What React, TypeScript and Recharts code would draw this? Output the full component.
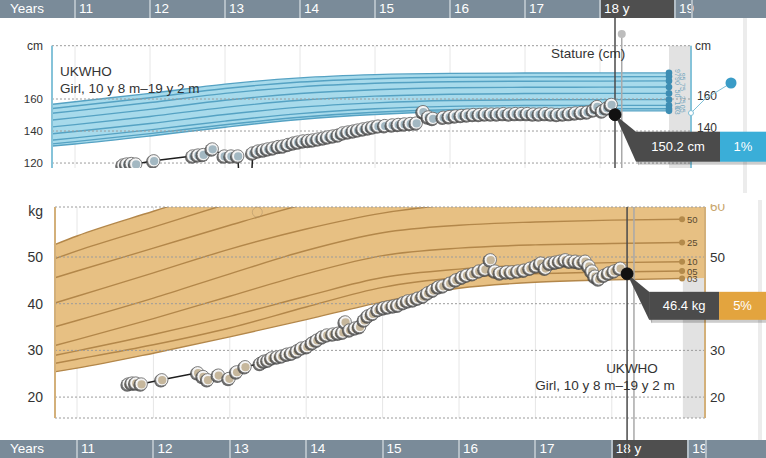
import React from "react";
import {
  ComposedChart,
  Line,
  Area,
  XAxis,
  YAxis,
  CartesianGrid,
  ReferenceLine,
  ReferenceArea,
  ReferenceDot,
} from "recharts";

const W = 766;
const H = 458;
const FONT = "'Liberation Sans', Arial, Helvetica, sans-serif";

const yearTicks = [11, 12, 13, 14, 15, 16, 17, 18, 19];
const currentAge = 18.2;
const markerAge = 18.29;

// centile curves (UKWHO girl)
const centileLabels = ["97", "95", "90", "75", "50", "25", "10", "05", "03"];
const htAges = [10.7, 11, 12, 13, 14, 15, 16, 17, 18, 18.92];
const htP97 = [156.7, 158.3, 163.5, 169.3, 173.2, 175.2, 176.0, 176.2, 176.3, 176.3];
const htP95 = [154.1, 155.6, 160.8, 166.6, 170.6, 172.7, 173.6, 173.8, 173.9, 174.0];
const htP90 = [151.1, 152.6, 157.8, 163.5, 167.6, 169.8, 170.8, 171.1, 171.2, 171.3];
const htP75 = [146.9, 148.4, 153.5, 159.2, 163.4, 165.8, 167.0, 167.3, 167.4, 167.5];
const htP50 = [142.6, 144.0, 149.1, 154.8, 159.2, 161.8, 163.0, 163.4, 163.5, 163.5];
const htP25 = [138.3, 139.7, 144.7, 150.3, 154.9, 157.6, 159.1, 159.5, 159.6, 159.6];
const htP10 = [134.3, 135.7, 140.7, 146.2, 150.9, 153.9, 155.4, 155.9, 156.0, 156.0];
const htP5 = [132.0, 133.4, 138.4, 143.9, 148.6, 151.7, 153.3, 153.8, 153.9, 153.9];
const htP3 = [130.6, 131.9, 136.9, 142.4, 147.2, 150.3, 152.0, 152.5, 152.6, 152.6];

const wtAges = [10.7, 11, 12, 13, 14, 15, 16, 17, 18, 18.92, 19.22];
const wtP97 = [52.6, 54.5, 59.8, 65.0, 69.5, 73.2, 75.6, 77.0, 77.8, 78.2, 78.3];
const wtP95 = [49.6, 51.3, 56.4, 61.5, 66.2, 69.8, 72.2, 73.6, 74.3, 74.6, 74.7];
const wtP90 = [45.5, 47.0, 51.9, 56.8, 61.4, 65.1, 67.6, 68.9, 69.6, 69.9, 70.0];
const wtP75 = [40.1, 41.6, 46.6, 51.7, 56.0, 59.4, 61.4, 62.6, 63.2, 63.5, 63.6];
const wtP50 = [35.0, 36.4, 41.2, 46.4, 51.4, 55.2, 56.8, 57.5, 57.9, 58.1, 58.2];
const wtP25 = [31.0, 32.3, 36.8, 41.6, 46.4, 50.3, 51.9, 52.6, 52.9, 53.1, 53.2];
const wtP10 = [28.9, 29.9, 33.4, 37.3, 41.6, 45.6, 47.4, 48.3, 48.8, 49.0, 49.1];
const wtP5 = [27.2, 28.1, 31.2, 34.8, 39.3, 43.5, 45.6, 46.4, 46.8, 47.0, 47.1];
const wtP3 = [25.4, 26.2, 29.4, 32.9, 36.6, 40.4, 43.3, 44.6, 45.1, 45.4, 45.5];

// measurements
const statAges = [11.64, 11.69, 11.75, 11.81, 12.05, 12.57, 12.64, 12.71, 12.83, 12.99, 13.08, 13.17, 13.28, 13.37, 13.44, 13.51, 13.57, 13.64, 13.71, 13.77, 13.84, 13.91, 13.97, 14.04, 14.11, 14.17, 14.24, 14.31, 14.37, 14.44, 14.51, 14.57, 14.64, 14.71, 14.77, 14.84, 14.91, 14.97, 15.04, 15.13, 15.23, 15.31, 15.39, 15.47, 15.55, 15.64, 15.71, 15.77, 15.91, 15.99, 16.07, 16.15, 16.23, 16.31, 16.39, 16.47, 16.55, 16.63, 16.71, 16.79, 16.87, 16.95, 17.03, 17.11, 17.19, 17.27, 17.35, 17.43, 17.51, 17.59, 17.67, 17.75, 17.83, 17.91, 17.96, 18.03, 18.09, 18.15, 18.2];
const statCm = [118.8, 119.4, 119.7, 119.4, 121.4, 124.4, 125.0, 125.3, 128.8, 124.4, 124.4, 124.4, 40, 126.3, 127.5, 128.1, 128.8, 129.4, 130.3, 130.6, 131.6, 132.5, 133.1, 133.8, 134.1, 134.4, 135.0, 135.6, 136.3, 136.9, 137.5, 138.8, 139.4, 140.0, 140.6, 141.3, 141.9, 142.5, 143.1, 143.4, 143.8, 144.1, 144.4, 144.7, 145.0, 152.1, 148.8, 147.9, 148.6, 149.0, 149.4, 149.7, 150.0, 150.3, 150.3, 150.6, 150.6, 150.6, 150.9, 150.6, 150.9, 150.9, 150.9, 150.6, 150.6, 150.9, 150.6, 150.3, 150.6, 150.9, 151.3, 151.6, 151.9, 153.1, 155.3, 152.5, 154.4, 156.6, 150.2];

const wtMAges = [11.67, 11.72, 11.77, 11.84, 12.11, 12.58, 12.65, 12.71, 12.85, 12.99, 13.09, 13.2, 13.4, 13.45, 13.5, 13.55, 13.62, 13.68, 13.75, 13.81, 13.88, 13.94, 14.01, 14.08, 14.14, 14.21, 14.27, 14.35, 14.42, 14.48, 14.51, 14.57, 14.64, 14.7, 14.76, 14.81, 14.87, 14.94, 15.01, 15.07, 15.14, 15.2, 15.27, 15.33, 15.4, 15.46, 15.53, 15.59, 15.66, 15.73, 15.79, 15.88, 15.96, 16.04, 16.1, 16.18, 16.26, 16.34, 16.41, 16.47, 16.54, 16.62, 16.69, 16.77, 16.85, 16.93, 17.01, 17.07, 17.13, 17.19, 17.26, 17.32, 17.39, 17.45, 17.52, 17.58, 17.65, 17.7, 17.74, 17.78, 17.83, 17.9, 17.96, 18.03, 18.11, 18.2];
const wtKg = [22.8, 23.0, 23.0, 22.8, 23.7, 25.2, 24.4, 23.7, 24.7, 24.0, 25.4, 26.5, 27.2, 27.7, 27.9, 28.4, 28.6, 28.8, 29.2, 29.4, 29.9, 30.5, 30.8, 31.6, 32.2, 32.9, 33.3, 33.5, 33.7, 33.9, 36.1, 34.4, 34.8, 35.1, 36.5, 37.4, 37.9, 38.7, 39.1, 39.3, 39.5, 39.7, 40.2, 40.6, 40.8, 41.2, 41.6, 42.3, 42.9, 43.6, 43.8, 44.4, 45.1, 45.7, 46.1, 46.4, 47.0, 47.4, 49.4, 47.0, 46.6, 46.8, 46.8, 47.0, 47.2, 47.6, 48.1, 48.7, 47.6, 48.7, 48.9, 49.1, 49.4, 49.1, 49.1, 48.9, 49.1, 48.1, 47.0, 45.9, 45.3, 46.1, 46.6, 47.0, 47.6, 46.4];

const htTicks = [120, 140, 160];
const wtTicks = [20, 30, 40, 50];

const htCurrent = 150.2;
const wtCurrent = 46.4;

const keys = ["p97", "p95", "p90", "p75", "p50", "p25", "p10", "p5", "p3"];
const toRows = (ages: number[], cols: number[][]) =>
  ages.map((age, i) => {
    const r: any = { age };
    keys.forEach((k, j) => (r[k] = cols[j][i]));
    return r;
  });
const htRows = toRows(htAges, [htP97, htP95, htP90, htP75, htP50, htP25, htP10, htP5, htP3]);
const wtRows = toRows(wtAges, [wtP97, wtP95, wtP90, wtP75, wtP50, wtP25, wtP10, wtP5, wtP3]);
const wtLineRows = wtRows.slice(0, wtRows.length - 1);
const statRows = statAges.map((age, i) => ({ age, v: statCm[i] }));
const wtMRows = wtMAges.map((age, i) => ({ age, v: wtKg[i] }));

// panel geometry (pixels per year in each panel)
const TOP = { x11: 75, perYear: 75, end: 692 };
const BOT = { x11: 77, perYear: 76.4, end: 706 };
const domainFor = (p: any) => [11 - p.x11 / p.perYear, 11 + (W - p.x11) / p.perYear];
const topDomain = domainFor(TOP);
const botDomain = domainFor(BOT);

const topAxisL = 10.693;
const topAxisR = 19.213;
const botAxisL = 10.712;
const botAxisR = 19.22;
const bandEnd = 18.92;

const htDom = [116.9, 193.3];
const wtDom = [15.52, 60.71];

const BLUE = "#3aaed8";
const TAN = "#e3a43e";
const DARK = "#4b4b4b";

const makeMeasureDot = (count: number, fill: string) => (props: any) => {
  const { cx, cy, index } = props;
  if (cx == null || cy == null || isNaN(cx) || isNaN(cy)) return <g key={`m${index}`} />;
  if (index === count - 1)
    return <circle key={`m${index}`} cx={cx} cy={cy} r={6} fill="#111" stroke="#2a2a2a" />;
  return (
    <g key={`m${index}`}>
      <circle cx={cx - 1} cy={cy + 1} r={6.8} fill="#454545" opacity={0.8} />
      <circle cx={cx} cy={cy} r={6.2} fill="#f4f4f4" stroke="#6f6f6f" strokeWidth={0.9} />
      <circle cx={cx + 0.4} cy={cy + 0.4} r={4.1} fill={fill} />
    </g>
  );
};

const makeEndDot = (last: number, label: string, mode: string, i: number) => (props: any) => {
  const { cx, cy, index } = props;
  if (index !== last || cx == null || cy == null) return <g key={`e${index}`} />;
  if (mode === "top") {
    const tx = cx + (i % 2 ? 13 : 8);
    return (
      <g key={`e${index}`}>
        <circle cx={cx} cy={cy} r={3.3} fill="#3d8db3" />
        <text x={tx} y={cy} transform={`rotate(90 ${tx} ${cy})`} fontSize={7} fill="#72a6bd" textAnchor="middle" dominantBaseline="central" fontFamily={FONT}>
          {label}
        </text>
      </g>
    );
  }
  return (
    <g key={`e${index}`}>
      <circle cx={cx} cy={cy} r={3} fill="#b38a4b" />
      <text x={cx + 5} y={cy} fontSize={9.5} fill="#5a4a30" dominantBaseline="central" fontFamily={FONT}>
        {label}
      </text>
    </g>
  );
};

const Callout = (props: any) => {
  const { cx, cy, text, pct, accent, gap, boxTop, boxH, darkW } = props;
  const bx = cx + gap;
  const by = cy + boxTop;
  const accW = W - (bx + darkW);
  return (
    <g>
      <polygon points={`${cx + 2},${cy + 5} ${bx + 3},${by + 4} ${bx + 3},${by + boxH + 4}`} fill="#000" opacity={0.18} />
      <rect x={bx + 2} y={by + 3} width={darkW + accW} height={boxH} fill="#000" opacity={0.2} />
      <polygon points={`${cx},${cy} ${bx},${by} ${bx},${by + boxH}`} fill={DARK} />
      <rect x={bx} y={by} width={darkW} height={boxH} fill={DARK} />
      <rect x={bx + darkW} y={by} width={accW} height={boxH} fill={accent} />
      <circle cx={cx} cy={cy} r={6} fill="#111" />
      <text x={bx + darkW / 2} y={by + boxH / 2} fill="#fff" fontSize={13} textAnchor="middle" dominantBaseline="central" fontFamily={FONT}>
        {text}
      </text>
      <text x={bx + darkW + accW / 2} y={by + boxH / 2} fill="#fff" fontSize={13} textAnchor="middle" dominantBaseline="central" fontFamily={FONT}>
        {pct}
      </text>
    </g>
  );
};

const gridLine = (y: number, x1: number, x2: number, left: string, right: string, opts: any) => (
  <ReferenceLine
    key={`g${y}`}
    segment={[{ x: x1, y }, { x: x2, y }]}
    stroke="#9b9b9b"
    strokeDasharray="2 2"
    ifOverflow="visible"
    label={(p: any) => {
      const vb = p.viewBox || {};
      return (
        <g>
          {left ? (
            <text x={vb.x - opts.lo} y={vb.y + (opts.ly || 0)} textAnchor="end" dominantBaseline="central" fontSize={opts.lf} fill="#333" fontFamily={FONT}>
              {left}
            </text>
          ) : null}
          {right ? (
            <text x={vb.x + vb.width + opts.ro} y={vb.y + (opts.ry || 0)} dominantBaseline="central" fontSize={opts.rf} fill={opts.rc || "#333"} fontFamily={FONT}>
              {right}
            </text>
          ) : null}
        </g>
      );
    }}
  />
);

function YearBar({ top, geo }: any) {
  const xs = (y: number) => geo.x11 + (y - 11) * geo.perYear;
  return (
    <div style={{ position: "absolute", left: 0, top, width: W, height: 18, background: "#7a8b99", fontFamily: FONT }}>
      <span style={{ position: "absolute", left: 10, top: 0, lineHeight: "18px", fontSize: 13.5, color: "#fff" }}>Years</span>
      {yearTicks.map((y) => {
        const left = xs(y);
        const right = y === 19 ? geo.end : xs(y + 1);
        return (
          <div
            key={y}
            style={{
              position: "absolute",
              left: left - 1,
              top: 0,
              width: right - left + 1,
              height: 18,
              boxSizing: "border-box",
              borderLeft: "2px solid #b3bec6",
              background: y === 18 ? "#4f4f4f" : "transparent",
              color: "#fff",
              fontSize: 13.5,
              lineHeight: "18px",
              paddingLeft: 3,
            }}
          >
            {y === 18 ? "18 y" : y}
          </div>
        );
      })}
      <div style={{ position: "absolute", left: geo.end - 1, top: 0, width: 2, height: 18, background: "#b3bec6" }} />
    </div>
  );
}

function StatureChart() {
  const last = htRows.length - 1;
  return (
    <ComposedChart width={W} height={178} margin={{ top: 45.7, right: 0, bottom: 10, left: 0 }}>
      <XAxis type="number" dataKey="age" domain={topDomain} ticks={yearTicks} hide allowDataOverflow />
      <YAxis type="number" domain={htDom} hide allowDataOverflow />
      <CartesianGrid horizontal={false} verticalValues={yearTicks.slice(0, 8)} stroke="#e6e6e6" />
      <ReferenceArea x1={bandEnd} x2={topAxisR} y1={htDom[0]} y2={193.3} fill="#e2e2e2" fillOpacity={1} stroke="none" />
      <Area data={htRows} dataKey={(d: any) => [d.p3, d.p97]} type="monotone" fill="#a7daeb" fillOpacity={1} stroke="none" isAnimationActive={false} />
      {keys.map((k, i) => (
        <Line key={k} data={htRows} dataKey={k} type="monotone" stroke="#55a2c3" strokeWidth={1.4} dot={makeEndDot(last, centileLabels[i], "top", i)} activeDot={false} isAnimationActive={false} />
      ))}
      {htTicks.map((t) => gridLine(t, topAxisL, topAxisR, String(t), t === 120 ? "" : String(t), { lo: 9, lf: 11.5, ro: 6, rf: 12, ry: -3 }))}
      {gridLine(193.3, topAxisL, topAxisR, "cm", "cm", { lo: 9, lf: 12, ro: 4, rf: 12, ry: 0 })}
      <ReferenceLine segment={[{ x: topAxisL, y: 193.3 }, { x: topAxisL, y: htDom[0] }]} stroke="#86c3d9" strokeWidth={2} ifOverflow="visible" />
      <ReferenceLine segment={[{ x: topAxisR, y: 193.3 }, { x: topAxisR, y: htDom[0] }]} stroke="#86c3d9" strokeWidth={2} ifOverflow="visible" />
      <ReferenceLine segment={[{ x: topAxisR, y: 151.25 }, { x: 19.4, y: 160 }]} stroke="#7fbfd6" strokeWidth={1} ifOverflow="visible" />
      <ReferenceLine segment={[{ x: 19.4, y: 160 }, { x: 19.747, y: 170 }]} stroke="#7fbfd6" strokeWidth={1} ifOverflow="visible" />
      <ReferenceDot x={topAxisR} y={151.25} r={2.5} fill="#fff" stroke="#7fbfd6" ifOverflow="visible" />
      <ReferenceDot x={19.747} y={170} r={5.5} fill="#3a9cc7" stroke="none" ifOverflow="visible" />
      <ReferenceLine segment={[{ x: markerAge, y: 198.75 }, { x: markerAge, y: htDom[0] }]} stroke="#a9a9a9" strokeWidth={1.5} ifOverflow="visible" />
      <ReferenceDot x={markerAge} y={200.6} r={4} fill="#bdbdbd" stroke="none" ifOverflow="visible" />
      <ReferenceLine segment={[{ x: currentAge, y: 211.25 }, { x: currentAge, y: htDom[0] }]} stroke="#4a4a4a" strokeWidth={1.5} ifOverflow="visible" />
      <Line data={statRows} dataKey="v" type="linear" stroke="#1e1e1e" strokeWidth={1.5} dot={makeMeasureDot(statRows.length, "#a3b8c2")} activeDot={false} isAnimationActive={false} />
      <ReferenceDot
        x={currentAge}
        y={htCurrent}
        ifOverflow="visible"
        shape={(p: any) => <Callout cx={p.cx} cy={p.cy} text="150.2 cm" pct="1%" accent={BLUE} gap={21} boxTop={17} boxH={30} darkW={84} />}
      />
    </ComposedChart>
  );
}

function WeightChart() {
  const last = wtLineRows.length - 1;
  return (
    <ComposedChart width={W} height={288} margin={{ top: 37, right: 0, bottom: 40, left: 0 }}>
      <XAxis type="number" dataKey="age" domain={botDomain} ticks={yearTicks} hide allowDataOverflow />
      <YAxis type="number" domain={wtDom} hide allowDataOverflow />
      <CartesianGrid horizontal={false} verticalValues={yearTicks.slice(0, 8)} stroke="#e6e6e6" />
      <ReferenceArea x1={18.93} x2={botAxisR} y1={wtDom[0]} y2={45.5} fill="#e2e2e2" fillOpacity={1} stroke="none" />
      <Area data={wtRows} dataKey={(d: any) => [d.p3, d.p97]} type="monotone" fill="#e7c083" fillOpacity={1} stroke="none" isAnimationActive={false} />
      {keys.map((k, i) => (
        <Line key={k} data={wtLineRows} dataKey={k} type="monotone" stroke="#b3874a" strokeWidth={1.4} dot={makeEndDot(last, centileLabels[i], "bottom", i)} activeDot={false} isAnimationActive={false} />
      ))}
      {wtTicks.map((t) => gridLine(t, botAxisL, botAxisR, String(t), t === 40 ? "" : String(t), { lo: 12, lf: 14, ro: 5, rf: 13.5 }))}
      {gridLine(wtDom[1], botAxisL, botAxisR, "kg", "", { lo: 12, lf: 14, ro: 5, rf: 13.5, ly: 4 })}
      {gridLine(wtDom[0], botAxisL, botAxisR, "", "", { lo: 12, lf: 14, ro: 5, rf: 13.5 })}
      <ReferenceLine segment={[{ x: botAxisL, y: wtDom[1] }, { x: botAxisL, y: wtDom[0] }]} stroke="#d3b07a" strokeWidth={2} ifOverflow="visible" />
      <ReferenceLine segment={[{ x: botAxisR, y: wtDom[1] }, { x: botAxisR, y: wtDom[0] }]} stroke="#d3b07a" strokeWidth={2} ifOverflow="visible" />
      <ReferenceDot x={13.36} y={59.6} r={5} fill="none" stroke="#b0936a" strokeOpacity={0.55} ifOverflow="visible" />
      <ReferenceLine segment={[{ x: markerAge, y: wtDom[1] }, { x: markerAge, y: 10.81 }]} stroke="#a9a9a9" strokeWidth={1.5} ifOverflow="visible" />
      <ReferenceLine segment={[{ x: currentAge, y: wtDom[1] }, { x: currentAge, y: 6.96 }]} stroke="#4a4a4a" strokeWidth={1.5} ifOverflow="visible" />
      <Line data={wtMRows} dataKey="v" type="linear" stroke="#1e1e1e" strokeWidth={1.5} dot={makeMeasureDot(wtMRows.length, "#c6b79c")} activeDot={false} isAnimationActive={false} />
      <ReferenceDot
        x={currentAge}
        y={wtCurrent}
        ifOverflow="visible"
        shape={(p: any) => <Callout cx={p.cx} cy={p.cy} text="46.4 kg" pct="5%" accent={TAN} gap={22} boxTop={18} boxH={28} darkW={70} />}
      />
    </ComposedChart>
  );
}

export default function App() {
  return (
    <div style={{ position: "absolute", left: 0, top: 0, width: W, height: H, background: "#fff", overflow: "hidden", fontFamily: FONT }}>
      <div style={{ position: "absolute", left: 743, top: 18, width: 4, height: 175, background: "#ececec" }} />
      <div style={{ position: "absolute", left: 758, top: 200, width: 4, height: 240, background: "#ececec" }} />
      <YearBar top={0} geo={TOP} />
      <YearBar top={440} geo={BOT} />
      <div style={{ position: "absolute", left: 0, top: 0 }}>
        <StatureChart />
      </div>
      <div style={{ position: "absolute", left: 0, top: 170 }}>
        <WeightChart />
      </div>
      <svg width={W} height={H} style={{ position: "absolute", left: 0, top: 0, pointerEvents: "none" }}>
        <defs>
          <clipPath id="cut60">
            <rect x={700} y={204} width={40} height={12} />
          </clipPath>
        </defs>
        <text x={710} y={211} fontFamily={FONT} fontSize={13.5} fill="#c9a66c" clipPath="url(#cut60)">
          60
        </text>
        <g fontFamily={FONT} fontSize={13.5} fill="#333">
          <text x={60} y={76}>UKWHO</text>
          <text x={60} y={93}>Girl, 10 y 8 m–19 y 2 m</text>
          <text x={551} y={58}>Stature (cm)</text>
          <text x={632} y={373} textAnchor="middle">UKWHO</text>
          <text x={605} y={390} textAnchor="middle">Girl, 10 y 8 m–19 y 2 m</text>
        </g>
      </svg>
    </div>
  );
}
